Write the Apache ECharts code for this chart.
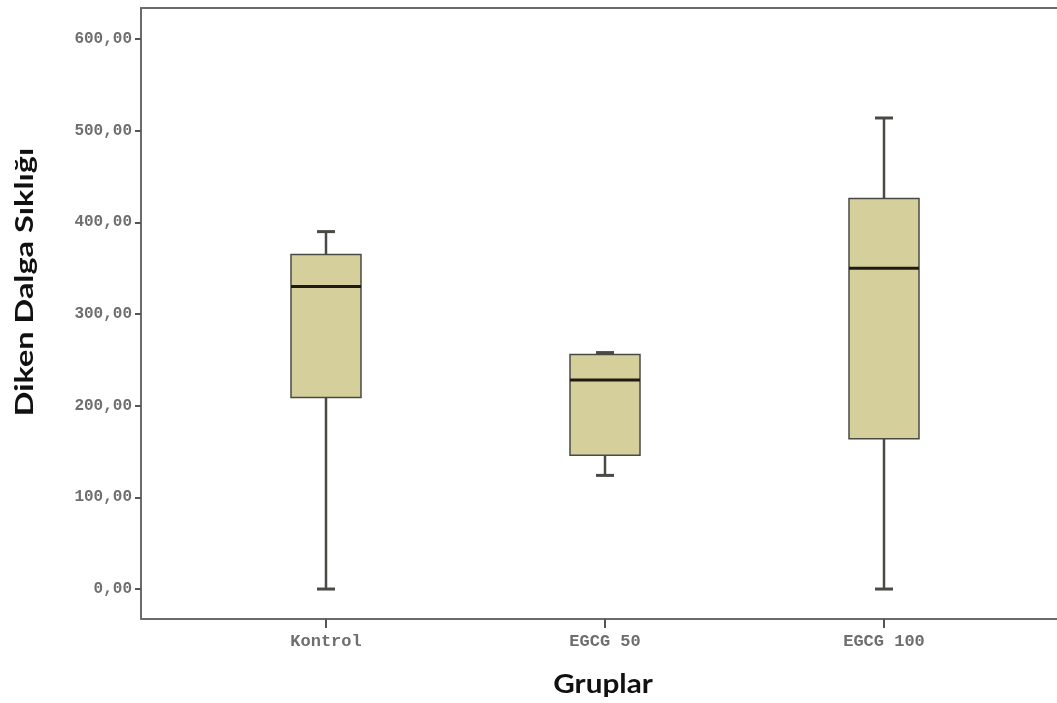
<!DOCTYPE html>
<html>
<head>
<meta charset="utf-8">
<script src="https://cdn.jsdelivr.net/npm/echarts@6/dist/echarts.min.js"></script>
<style>
  html, body { margin: 0; padding: 0; background: #fff; }
  #chart { width: 1057px; height: 703px; }
</style>
</head>
<body>
<div id="chart"></div>
<script>
// Groups and their five-number summaries
const categories = ['Kontrol', 'EGCG 50', 'EGCG 100'];
const minimums  = [0, 124, 0];
const lowerQ    = [209, 146, 164];
const medians   = [330, 228, 350];
const upperQ    = [365, 256, 426];
const maximums  = [390, 258, 514];
const yTicks    = [0, 100, 200, 300, 400, 500, 600];
const xTitle    = 'Gruplar';
const yTitle    = 'Diken Dalga Sıklığı';

const boxData = categories.map((c, i) =>
  [i, minimums[i], lowerQ[i], medians[i], upperQ[i], maximums[i]]);

const chart = echarts.init(document.getElementById('chart'));

const fill = '#d5d09b';
const edge = '#4a4a44';
const axisColor = '#6b6b6b';

// One box: whiskers with short caps, the quartile box and a heavy median bar
function renderBox(params, api) {
  const x = api.value(0);
  const pMin = api.coord([x, api.value(1)]);
  const pQ1 = api.coord([x, api.value(2)]);
  const pMed = api.coord([x, api.value(3)]);
  const pQ3 = api.coord([x, api.value(4)]);
  const pMax = api.coord([x, api.value(5)]);
  const half = 35, cap = 9, cx = Math.round(pMed[0]);
  return {
    type: 'group',
    children: [
      { type: 'line', shape: { x1: cx, y1: pQ3[1], x2: cx, y2: pMax[1] },
        style: { stroke: edge, lineWidth: 2.5 } },
      { type: 'line', shape: { x1: cx, y1: pQ1[1], x2: cx, y2: pMin[1] },
        style: { stroke: edge, lineWidth: 2.5 } },
      { type: 'line', shape: { x1: cx - cap, y1: pMax[1], x2: cx + cap, y2: pMax[1] },
        style: { stroke: edge, lineWidth: 3 } },
      { type: 'line', shape: { x1: cx - cap, y1: pMin[1], x2: cx + cap, y2: pMin[1] },
        style: { stroke: edge, lineWidth: 3 } },
      { type: 'rect', shape: { x: cx - half, y: pQ3[1], width: half * 2, height: pQ1[1] - pQ3[1] },
        style: { fill: fill, stroke: edge, lineWidth: 1.5 } },
      { type: 'line', shape: { x1: cx - half, y1: pMed[1], x2: cx + half, y2: pMed[1] },
        style: { stroke: '#1e1c12', lineWidth: 3 } }
    ]
  };
}

const monoLabel = {
  fontFamily: 'Liberation Mono, DejaVu Sans Mono, monospace',
  fontSize: 16,
  fontWeight: 'bold',
  color: '#6e6e6e'
};

const xRange = { min: -0.663, max: 2.62 };

chart.setOption({
  animation: false,
  backgroundColor: '#ffffff',
  grid: { left: 141, right: 0, top: 8, bottom: 84 },
  xAxis: [{
    type: 'value',
    min: xRange.min,
    max: xRange.max,
    splitLine: { show: false },
    axisLine: { show: true, onZero: false, lineStyle: { color: axisColor, width: 2 } },
    axisTick: { show: true, customValues: [0, 1, 2], length: 9, lineStyle: { color: '#555', width: 2 } },
    axisLabel: Object.assign({
      customValues: [0, 1, 2],
      margin: 14,
      formatter: v => categories[Math.round(v)]
    }, monoLabel, { fontSize: 17 })
  }, {
    // frame line along the top of the plot
    type: 'value',
    position: 'top',
    min: xRange.min,
    max: xRange.max,
    splitLine: { show: false },
    axisLine: { show: true, onZero: false, lineStyle: { color: axisColor, width: 2 } },
    axisTick: { show: false },
    axisLabel: { show: false }
  }],
  yAxis: {
    type: 'value',
    min: -32.7,
    max: 634,
    splitLine: { show: false },
    axisLine: { show: true, onZero: false, lineStyle: { color: axisColor, width: 2 } },
    axisTick: { show: true, customValues: yTicks, length: 6, lineStyle: { color: '#555', width: 2 } },
    axisLabel: Object.assign({
      customValues: yTicks,
      margin: 9,
      formatter: v => v.toFixed(2).replace('.', ',')
    }, monoLabel)
  },
  graphic: [{
    type: 'text',
    x: 603, y: 684,
    scaleX: 1.1,
    style: {
      text: xTitle, fontFamily: 'Lato', fontWeight: 'bold', fontSize: 27,
      fill: '#111', align: 'center', verticalAlign: 'middle'
    }
  }, {
    type: 'text',
    x: 25, y: 282,
    rotation: Math.PI / 2,
    scaleX: 1.3,
    style: {
      text: yTitle, fontFamily: 'Lato', fontWeight: 'bold', fontSize: 25,
      fill: '#111', align: 'center', verticalAlign: 'middle'
    }
  }],
  series: [{
    type: 'custom',
    xAxisIndex: 0,
    renderItem: renderBox,
    encode: { x: 0, y: [1, 2, 3, 4, 5] },
    data: boxData,
    clip: false
  }]
});
</script>
</body>
</html>
